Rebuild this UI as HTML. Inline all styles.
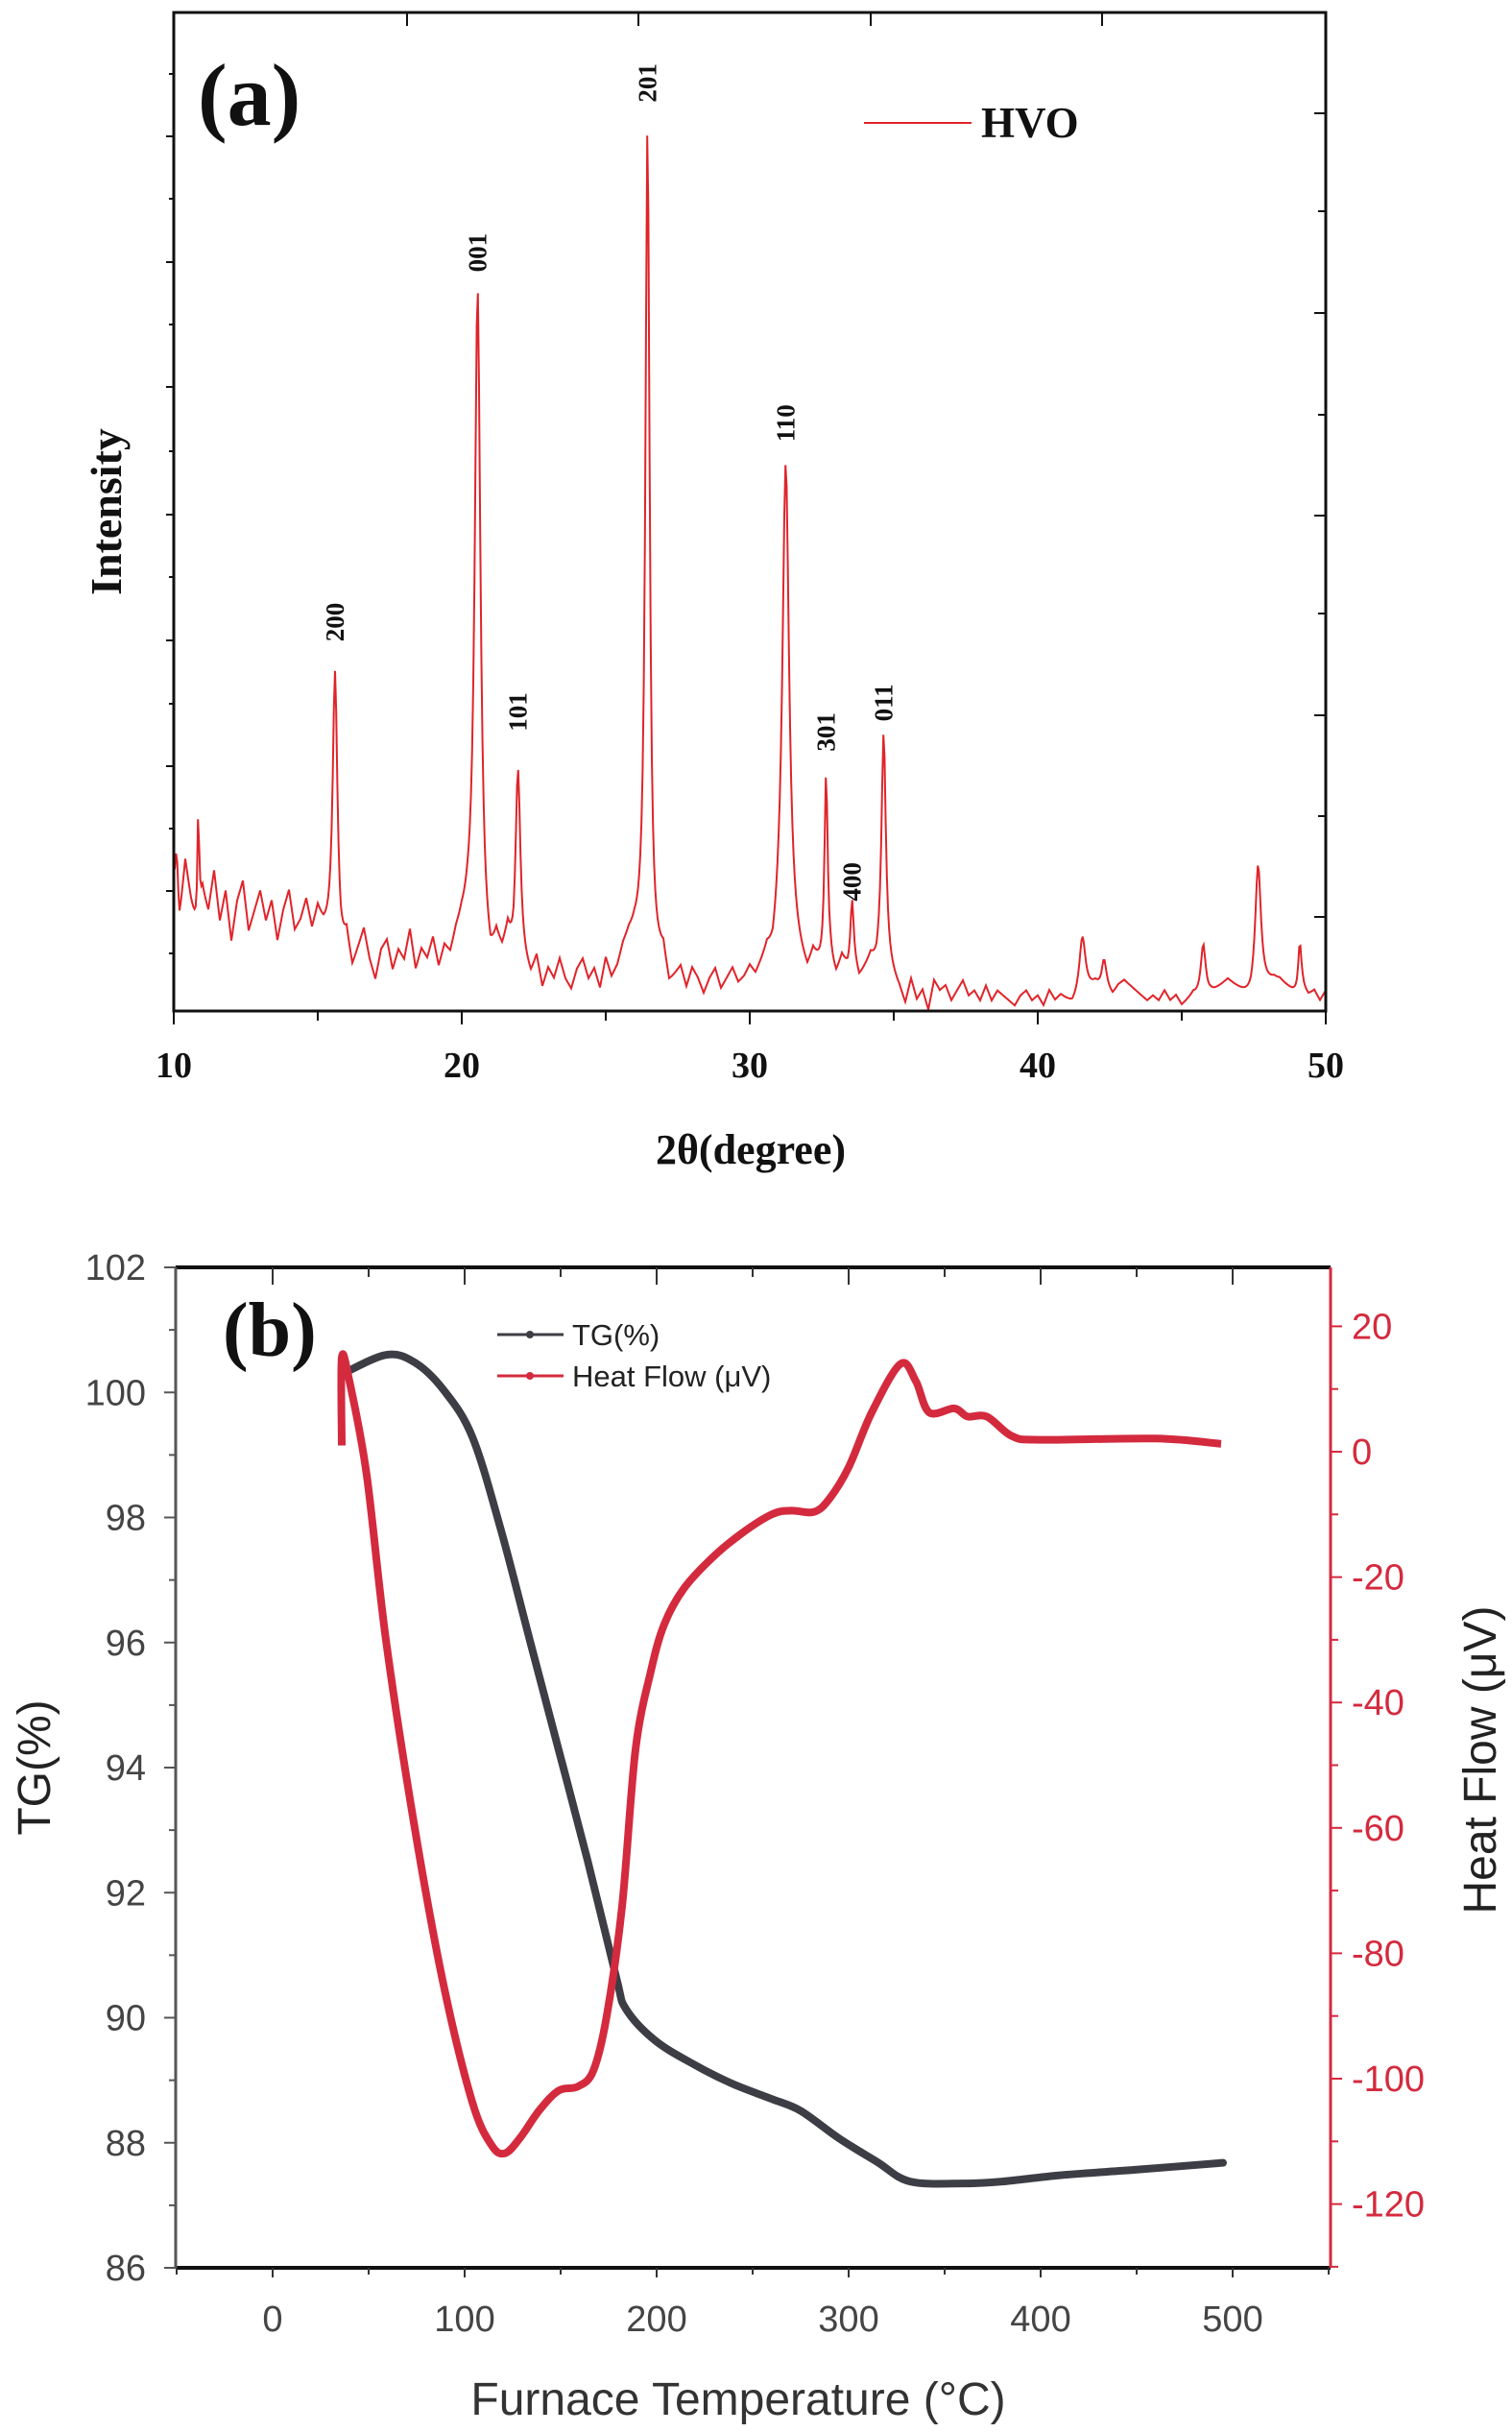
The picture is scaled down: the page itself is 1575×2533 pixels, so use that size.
<!DOCTYPE html>
<html><head><meta charset="utf-8"><style>
html,body{margin:0;padding:0;background:#fff}
svg{display:block}
.serif{font-family:"Liberation Serif",serif;font-weight:bold}
.sans{font-family:"Liberation Sans",sans-serif}
</style></head><body>
<svg id="chart" width="1575" height="2533" viewBox="0 0 1575 2533" xmlns="http://www.w3.org/2000/svg">
<g id="pa"></g>
<g id="pb"></g>
</svg>
<script>
// ---------- Panel (a) data ----------
const xrdBgStart = 10, xrdBgStep = 0.2;
const xrdBackground = [13,9,15,11,8,12,10,14,9,12,7,11,13,8,10,12,9,11,7,10,12,8,9,11,8,10,
8,7,6,5,7,4,6,8,5,3,6,7,4,6,5,8,4,6,5,7,4,6,5,7,8,
8,7,6,4,3,6,5,7,4,5,4,3,5,2,4,3,5,3,2,4,5,3,4,2,5,3,4,6,7,7,
6,5,3,4,5,2,3,4,2,4,3,1.5,3,4,2,3,4,2.5,3,4,3,4,5,4,6,
7,6,5,4,3,5,4,3,4,3,5,4,5,3,4,5,4,5,4,3,
2,0.5,3,1,2,0,3,2,2.5,1,2,3,1.5,2,1,2.5,1,2,1.5,1,
0.5,1.5,2,1,1.5,0.5,2,1,1.5,1,0.5,1,1.5,2,2.5,2,2,1.5,2.5,3,
2.5,2,1.5,1,1.5,1,2,1,1.5,0.5,1,1.5,1,0.5,1.5,2,2.5,3,2.5,2,
1.5,1,1.5,2,2.5,3,3,2.5,2,1.5,2,1.5,2,1,2];
const peakCenters = [10.1,10.85,15.6,20.55,21.95,26.45,31.25,32.65,33.55,34.65,41.55,42.3,45.75,47.65,49.1];
const peakHeights = [5,11,28,66,19,84,48,20,6,23,6,3,6,13,5];
const peakWidths  = [0.05,0.04,0.1,0.12,0.1,0.09,0.14,0.07,0.06,0.09,0.13,0.1,0.11,0.12,0.07];
const peakLabels = ["200","001","101","201","110","301","400","011"];
const peakLabelX = [15.6,20.55,21.95,26.45,31.25,32.65,33.55,34.65];
const peakLabelV = [37,74,28,91,57,26,11,29];
const xrdTicks = [10,20,30,40,50];

// ---------- Panel (b) data ----------
const tgTemp = [36,59,74,89,104,119,134,149,164,179,184,199,219,239,260,275,295,315,332,360,380,410,450,495];
const tgVal  = [100.29,100.6,100.48,100.04,99.29,97.79,96.03,94.28,92.52,90.64,90.14,89.64,89.26,88.95,88.70,88.51,88.07,87.69,87.38,87.35,87.38,87.48,87.57,87.68];
const hfTemp = [36,36,40,49,59,74,89,104,114,121,129,139,149,159,167,174,182,189,197,204,214,229,244,260,270,282,290,300,312,327,335,342,355,362,372,385,400,460,494];
const hfVal  = [1,15,11.25,-3.75,-30,-60,-85,-103.75,-110.6,-111.9,-109.4,-105,-101.9,-101.25,-98.75,-90,-72.5,-47.5,-35,-27.5,-21.9,-16.9,-13.1,-10,-9.4,-9.6,-7.5,-2.5,6.25,14,11.25,6.25,6.9,5.6,5.6,2.5,1.9,2.1,1.25];
const tempTicks = [0,100,200,300,400,500];
const tgTicks = [86,88,90,92,94,96,98,100,102];
const hfTicks = [-120,-100,-80,-60,-40,-20,0,20];

const NS="http://www.w3.org/2000/svg";
function mk(parent,tag,attrs,text){const e=document.createElementNS(NS,tag);for(const k in attrs)e.setAttribute(k,attrs[k]);if(text!==undefined)e.textContent=text;parent.appendChild(e);return e;}
function smooth(pts){let d="M"+pts[0][0].toFixed(1)+","+pts[0][1].toFixed(1);for(let i=0;i<pts.length-1;i++){const p0=pts[Math.max(0,i-1)],p1=pts[i],p2=pts[i+1],p3=pts[Math.min(pts.length-1,i+2)];const c1=[p1[0]+(p2[0]-p0[0])/6,p1[1]+(p2[1]-p0[1])/6],c2=[p2[0]-(p3[0]-p1[0])/6,p2[1]-(p3[1]-p1[1])/6];d+="C"+c1[0].toFixed(1)+","+c1[1].toFixed(1)+" "+c2[0].toFixed(1)+","+c2[1].toFixed(1)+" "+p2[0].toFixed(1)+","+p2[1].toFixed(1);}return d;}

// ---------- Panel (a) ----------
(function(){
const g=document.getElementById('pa');
const L=181,R=1381,T=13,B=1053;
const xs=v=>L+(v-10)/40*(R-L);
const ys=v=>B-v*10.4;
function bg(x){const i=(x-xrdBgStart)/xrdBgStep;const i0=Math.max(0,Math.min(xrdBackground.length-1,Math.floor(i)));const i1=Math.min(xrdBackground.length-1,i0+1);const f=i-i0;return xrdBackground[i0]*(1-f)+xrdBackground[i1]*f;}
let d="";
for(let x=10;x<=50.0001;x+=0.04){let v=bg(x);for(let k=0;k<peakCenters.length;k++){const t=(x-peakCenters[k])/peakWidths[k];v+=peakHeights[k]/(1+t*t);}d+=(d?"L":"M")+xs(x).toFixed(1)+","+Math.min(ys(v),B+2).toFixed(1);}
const line=mk(g,'path',{d:d,fill:'none',stroke:'#e0242a','stroke-width':2});


const fr=mk(g,'rect',{x:L,y:T,width:R-L,height:B-T,fill:'none',stroke:'#111','stroke-width':3});


for(let v=10;v<=50;v+=5){mk(g,'line',{x1:xs(v),x2:xs(v),y1:B,y2:B+(v%10===0?14:10),stroke:'#111','stroke-width':2});}
xrdTicks.forEach(v=>{const t=mk(g,'text',{x:xs(v),y:1122,'text-anchor':'middle','font-size':38,class:'serif',fill:'#111'},v);

});
[424,665,907,1148].forEach(x=>mk(g,'line',{x1:x,x2:x,y1:T,y2:T+14,stroke:'#111','stroke-width':2}));
[142,273,403,536,667,798,928].forEach(y=>mk(g,'line',{x1:L,x2:L-8,y1:y,y2:y,stroke:'#111','stroke-width':2}));
[77,207,338,470,601,733,863,993].forEach(y=>mk(g,'line',{x1:L,x2:L-5,y1:y,y2:y,stroke:'#111','stroke-width':2}));
[118,220,326,432,537,639,745,850,955].forEach((y,i)=>mk(g,'line',{x1:R,x2:R-(i%2?8:12),y1:y,y2:y,stroke:'#111','stroke-width':2}));
peakLabels.forEach((s,i)=>{const x=xs(peakLabelX[i])+9,y=ys(peakLabelV[i]);const t=mk(g,'text',{x:x,y:y,transform:`rotate(-90 ${x} ${y})`,'font-size':27,class:'serif',fill:'#111'},s);

});
const a=mk(g,'text',{x:206,y:130,'font-size':92,class:'serif',fill:'#111'},'(a)');


const ll=mk(g,'line',{x1:900,x2:1012,y1:128,y2:128,stroke:'#e0242a','stroke-width':2});


const lt=mk(g,'text',{x:1022,y:143,'font-size':45,class:'serif',fill:'#111'},'HVO');


const xt=mk(g,'text',{x:782,y:1212,'text-anchor':'middle','font-size':44,class:'serif',fill:'#111'},'2θ(degree)');


const yt=mk(g,'text',{x:126,y:533,transform:'rotate(-90 126 533)','text-anchor':'middle','font-size':46,class:'serif',fill:'#111'},'Intensity');


})();

// ---------- Panel (b) ----------
(function(){
const g=document.getElementById('pb');
const L=183,R=1386,T=1320,B=2362;
const xs=v=>284+v*2.0;
const yl=v=>T+(102-v)/16*(B-T);
const yr=v=>1512-v*6.53;
const tgc='#3d3d45', hfc='#d42a3e';
const p1pts=hfTemp.map((t,i)=>[xs(t),yr(hfVal[i])]);
const p2pts=tgTemp.map((t,i)=>[xs(t),yl(tgVal[i])]);
const p2=mk(g,'path',{d:smooth(p2pts),fill:'none',stroke:tgc,'stroke-width':8,'stroke-linejoin':'round','stroke-linecap':'round'});


const p1=mk(g,'path',{d:smooth(p1pts),fill:'none',stroke:hfc,'stroke-width':8,'stroke-linejoin':'round'});


mk(g,'line',{x1:L,x2:R,y1:T,y2:T,stroke:'#111','stroke-width':4});
mk(g,'line',{x1:L,x2:R,y1:B,y2:B,stroke:'#111','stroke-width':4});
mk(g,'line',{x1:L,x2:L,y1:T,y2:B,stroke:'#555','stroke-width':3});
mk(g,'line',{x1:R,x2:R,y1:T,y2:B,stroke:hfc,'stroke-width':3});
for(let v=-50;v<=550;v+=50){const maj=v%100===0;mk(g,'line',{x1:xs(v),x2:xs(v),y1:B,y2:B+(maj?10:7),stroke:'#333','stroke-width':2});if(v>-50&&v<550)mk(g,'line',{x1:xs(v),x2:xs(v),y1:T,y2:T+(maj?18:10),stroke:'#333','stroke-width':2});}
tempTicks.forEach(v=>{const t=mk(g,'text',{x:xs(v),y:2428,'text-anchor':'middle','font-size':38,class:'sans',fill:'#444'},v);

});
for(let v=86;v<=102;v+=1){mk(g,'line',{x1:L,x2:L-(v%2===0?12:7),y1:yl(v),y2:yl(v),stroke:'#555','stroke-width':2});}
tgTicks.forEach(v=>{const t=mk(g,'text',{x:152,y:yl(v)+13,'text-anchor':'end','font-size':38,class:'sans',fill:'#444'},v);

});
for(let v=-130;v<=25;v+=10){mk(g,'line',{x1:R,x2:R+(v%20===0?12:8),y1:yr(v),y2:yr(v),stroke:hfc,'stroke-width':2});}
hfTicks.forEach(v=>{const t=mk(g,'text',{x:1408,y:yr(v)+13,'font-size':38,class:'sans',fill:hfc},v);

});
const b=mk(g,'text',{x:232,y:1412,'font-size':80,class:'serif',fill:'#111'},'(b)');


[[1390,tgc,'TG(%)'],[1433,hfc,'Heat Flow (μV)']].forEach(([y,c,s])=>{
const l=mk(g,'line',{x1:518,x2:587,y1:y,y2:y,stroke:c,'stroke-width':3});


mk(g,'circle',{cx:552,cy:y,r:4,fill:c});
const t=mk(g,'text',{x:596,y:y+11,'font-size':31,class:'sans',fill:'#222'},s);

});
const xt=mk(g,'text',{x:769,y:2515,'text-anchor':'middle','font-size':48,class:'sans',fill:'#333'},'Furnace Temperature (°C)');


const yt=mk(g,'text',{x:52,y:1841,transform:'rotate(-90 52 1841)','text-anchor':'middle','font-size':48,class:'sans',fill:'#222'},'TG(%)');


const rt=mk(g,'text',{x:1558,y:1833,transform:'rotate(-90 1558 1833)','text-anchor':'middle','font-size':48,class:'sans',fill:'#222'},'Heat Flow (μV)');


})();
</script>
</body></html>
